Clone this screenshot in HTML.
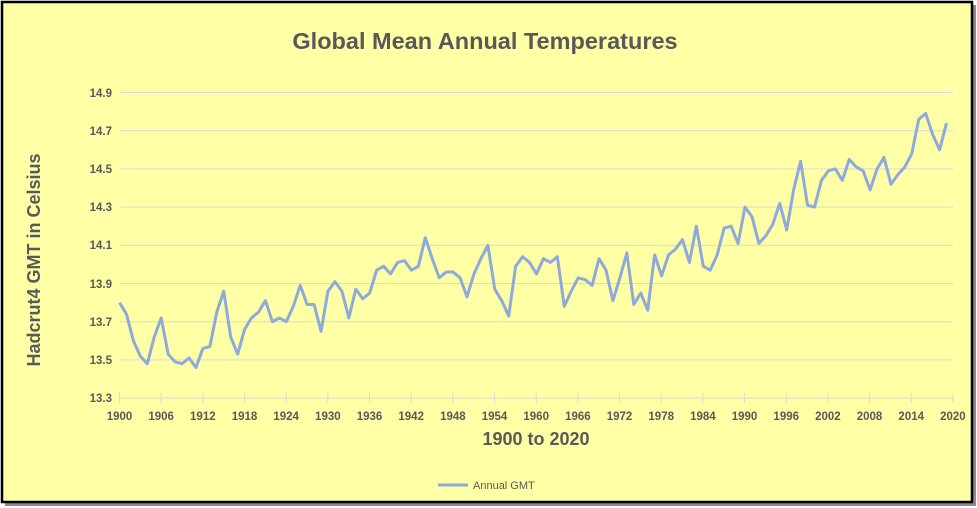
<!DOCTYPE html>
<html><head><meta charset="utf-8"><style>
body{margin:0;background:#fff;width:977px;height:508px;overflow:hidden}
svg{display:block;font-family:"Liberation Sans",sans-serif}
</style></head><body>
<svg width="977" height="508" viewBox="0 0 977 508">
<rect x="5" y="5" width="971" height="501" fill="#8a8a8a"/>
<rect x="2" y="2" width="970" height="500" fill="#FFFFA6" stroke="#000" stroke-width="2.5"/>
<text x="485" y="49" text-anchor="middle" font-size="23.5" font-weight="bold" fill="#595959">Global Mean Annual Temperatures</text>
<g stroke="#D9D9D9" stroke-width="1">
<line x1="119.5" x2="953" y1="92.5" y2="92.5"/><line x1="119.5" x2="953" y1="130.7" y2="130.7"/>
<line x1="119.5" x2="953" y1="168.9" y2="168.9"/><line x1="119.5" x2="953" y1="207.1" y2="207.1"/>
<line x1="119.5" x2="953" y1="245.3" y2="245.3"/><line x1="119.5" x2="953" y1="283.5" y2="283.5"/>
<line x1="119.5" x2="953" y1="321.7" y2="321.7"/><line x1="119.5" x2="953" y1="359.9" y2="359.9"/>
<line x1="119.5" x2="953" y1="398" y2="398"/>
</g>
<g stroke="#D9D9D9" stroke-width="1" id="ticks"></g>
<g font-size="11.5" font-weight="bold" fill="#595959" text-anchor="end">
<text x="112" y="97">14.9</text><text x="112" y="135">14.7</text><text x="112" y="173">14.5</text>
<text x="112" y="211">14.3</text><text x="112" y="249">14.1</text><text x="112" y="288">13.9</text>
<text x="112" y="326">13.7</text><text x="112" y="364">13.5</text><text x="112" y="402">13.3</text>
</g>
<g font-size="11.5" font-weight="bold" fill="#595959" text-anchor="middle" id="xl"></g>
<text x="536" y="445" text-anchor="middle" font-size="18" font-weight="bold" fill="#595959">1900 to 2020</text>
<text transform="translate(40,260) rotate(-90)" text-anchor="middle" font-size="18" font-weight="bold" fill="#595959">Hadcrut4 GMT in Celsius</text>
<polyline fill="none" stroke="#8EA9DB" stroke-width="3" stroke-linejoin="round" vector-effect="non-scaling-stroke" transform="translate(119.5,2938.4) scale(6.95,-191)" points="0,13.80 1,13.74 2,13.60 3,13.52 4,13.48 5,13.62 6,13.72 7,13.53 8,13.49 9,13.48 10,13.51 11,13.46 12,13.56 13,13.57 14,13.75 15,13.86 16,13.62 17,13.53 18,13.66 19,13.72 20,13.75 21,13.81 22,13.70 23,13.72 24,13.70 25,13.78 26,13.89 27,13.79 28,13.79 29,13.65 30,13.86 31,13.91 32,13.86 33,13.72 34,13.87 35,13.82 36,13.85 37,13.97 38,13.99 39,13.95 40,14.01 41,14.02 42,13.97 43,13.99 44,14.14 45,14.03 46,13.93 47,13.96 48,13.96 49,13.93 50,13.83 51,13.95 52,14.03 53,14.10 54,13.87 55,13.81 56,13.73 57,13.99 58,14.04 59,14.01 60,13.95 61,14.03 62,14.01 63,14.04 64,13.78 65,13.86 66,13.93 67,13.92 68,13.89 69,14.03 70,13.97 71,13.81 72,13.93 73,14.06 74,13.79 75,13.85 76,13.76 77,14.05 78,13.94 79,14.05 80,14.08 81,14.13 82,14.01 83,14.20 84,13.99 85,13.97 86,14.05 87,14.19 88,14.20 89,14.11 90,14.30 91,14.25 92,14.11 93,14.15 94,14.21 95,14.32 96,14.18 97,14.39 98,14.54 99,14.31 100,14.30 101,14.44 102,14.49 103,14.50 104,14.44 105,14.55 106,14.51 107,14.49 108,14.39 109,14.50 110,14.56 111,14.42 112,14.47 113,14.51 114,14.58 115,14.76 116,14.79 117,14.68 118,14.60 119,14.74"/>
<line x1="438" x2="468" y1="485" y2="485" stroke="#8EA9DB" stroke-width="3"/>
<text x="473" y="489" font-size="11" fill="#595959">Annual GMT</text>
</svg>
<script>
var t=document.getElementById('ticks'),x=document.getElementById('xl'),ns='http://www.w3.org/2000/svg';
for(var i=0;i<=20;i++){var px=119.5+i*6*6.945;
var l=document.createElementNS(ns,'line');l.setAttribute('x1',px);l.setAttribute('x2',px);l.setAttribute('y1',393);l.setAttribute('y2',403);t.appendChild(l);
var s=document.createElementNS(ns,'text');s.setAttribute('x',px);s.setAttribute('y',420);s.textContent=1900+i*6;x.appendChild(s);}
</script>
</body></html>
